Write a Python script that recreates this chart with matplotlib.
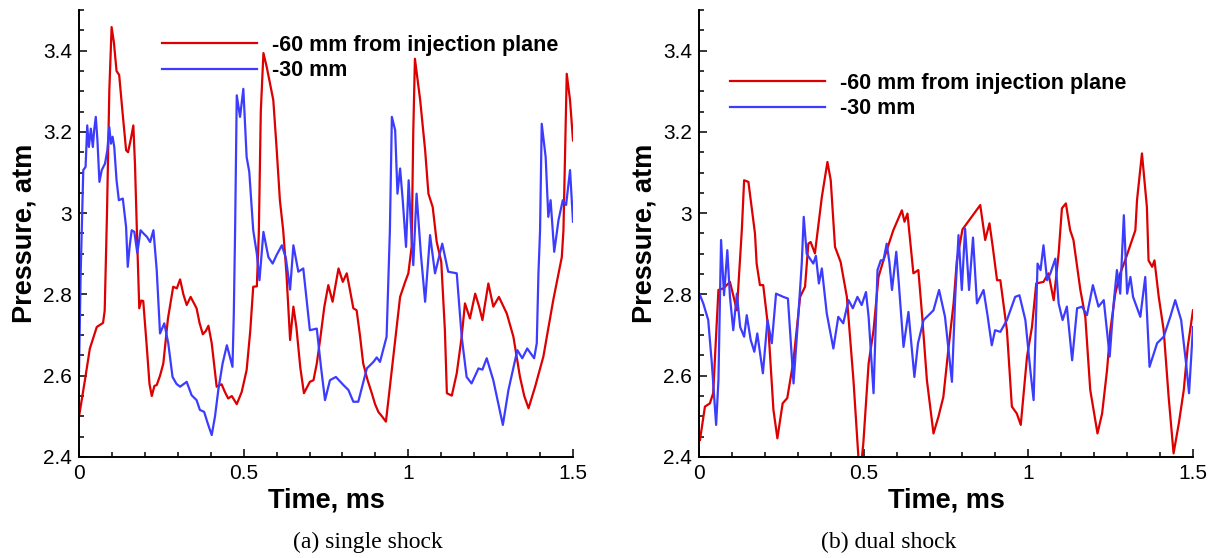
import matplotlib
matplotlib.use("Agg")
import matplotlib.pyplot as plt
from matplotlib.ticker import MultipleLocator, FuncFormatter

plt.rcParams['font.family'] = ['Liberation Sans', 'DejaVu Sans']

# ---------------- data: (a) single shock ----------------
a_red_t = [0.000, 0.018, 0.033, 0.054, 0.073, 0.078, 0.085, 0.092, 0.099, 0.106, 0.114, 0.122,
           0.132, 0.143, 0.149, 0.158, 0.165, 0.170, 0.176, 0.183, 0.189, 0.195, 0.205, 0.214,
           0.221, 0.229, 0.236, 0.246, 0.256, 0.270, 0.286, 0.297, 0.307, 0.317, 0.327, 0.339,
           0.348, 0.357, 0.366, 0.376, 0.385, 0.393, 0.403, 0.418, 0.433, 0.443, 0.453, 0.464,
           0.479, 0.494, 0.509, 0.520, 0.529, 0.540, 0.546, 0.552, 0.560, 0.570, 0.590, 0.600,
           0.610, 0.620, 0.630, 0.641, 0.651, 0.660, 0.672, 0.683, 0.701, 0.712, 0.722, 0.732,
           0.745, 0.757, 0.770, 0.788, 0.801, 0.813, 0.823, 0.833, 0.843, 0.853, 0.863, 0.876,
           0.889, 0.899, 0.909, 0.920, 0.932, 0.944, 0.960, 0.975, 0.990, 1.000, 1.010, 1.015,
           1.020, 1.028, 1.036, 1.051, 1.061, 1.074, 1.086, 1.100, 1.111, 1.117, 1.132, 1.147,
           1.162, 1.172, 1.187, 1.203, 1.215, 1.225, 1.243, 1.258, 1.275, 1.299, 1.319, 1.339,
           1.352, 1.365, 1.385, 1.410, 1.440, 1.466, 1.471, 1.476, 1.481, 1.491, 1.500]
a_red_p = [2.499, 2.589, 2.667, 2.720, 2.730, 2.760, 3.000, 3.300, 3.458, 3.420, 3.350, 3.340,
           3.250, 3.155, 3.150, 3.185, 3.216, 3.120, 2.950, 2.766, 2.785, 2.784, 2.680, 2.580,
           2.550, 2.575, 2.577, 2.600, 2.630, 2.740, 2.819, 2.815, 2.837, 2.800, 2.774, 2.794,
           2.780, 2.766, 2.730, 2.702, 2.710, 2.723, 2.680, 2.573, 2.579, 2.560, 2.544, 2.550,
           2.530, 2.560, 2.614, 2.710, 2.819, 2.820, 2.950, 3.250, 3.394, 3.360, 3.278, 3.160,
           3.032, 2.958, 2.850, 2.688, 2.770, 2.720, 2.620, 2.557, 2.585, 2.589, 2.630, 2.688,
           2.770, 2.823, 2.782, 2.864, 2.831, 2.852, 2.810, 2.766, 2.761, 2.700, 2.630, 2.590,
           2.557, 2.530, 2.511, 2.500, 2.487, 2.573, 2.688, 2.794, 2.830, 2.852, 2.917, 3.200,
           3.380, 3.330, 3.278, 3.155, 3.048, 3.015, 2.930, 2.880, 2.712, 2.557, 2.551, 2.606,
           2.696, 2.778, 2.741, 2.802, 2.770, 2.737, 2.827, 2.770, 2.794, 2.753, 2.696, 2.597,
           2.550, 2.520, 2.573, 2.647, 2.786, 2.892, 2.958, 3.150, 3.343, 3.278, 3.179]

a_blue_t = [0.000, 0.005, 0.013, 0.020, 0.025, 0.030, 0.036, 0.042, 0.046, 0.051, 0.056, 0.062,
            0.069, 0.079, 0.086, 0.092, 0.097, 0.102, 0.107, 0.114, 0.121, 0.133, 0.143, 0.148,
            0.154, 0.160, 0.168, 0.177, 0.187, 0.196, 0.206, 0.216, 0.226, 0.236, 0.246, 0.259,
            0.271, 0.284, 0.296, 0.307, 0.327, 0.342, 0.357, 0.367, 0.380, 0.392, 0.403, 0.413,
            0.423, 0.436, 0.449, 0.466, 0.470, 0.474, 0.479, 0.489, 0.499, 0.509, 0.517, 0.529,
            0.540, 0.548, 0.560, 0.575, 0.588, 0.600, 0.616, 0.628, 0.641, 0.651, 0.666, 0.681,
            0.701, 0.722, 0.735, 0.747, 0.762, 0.780, 0.803, 0.818, 0.833, 0.848, 0.874, 0.894,
            0.904, 0.914, 0.934, 0.940, 0.944, 0.950, 0.960, 0.967, 0.975, 0.983, 0.993, 1.001,
            1.007, 1.015, 1.025, 1.038, 1.051, 1.066, 1.081, 1.103, 1.121, 1.147, 1.162, 1.177,
            1.192, 1.213, 1.225, 1.238, 1.258, 1.273, 1.287, 1.304, 1.331, 1.346, 1.361, 1.382,
            1.390, 1.395, 1.400, 1.405, 1.417, 1.425, 1.432, 1.443, 1.456, 1.469, 1.479, 1.491,
            1.500]
a_blue_p = [2.610, 2.850, 3.106, 3.114, 3.216, 3.163, 3.208, 3.163, 3.204, 3.237, 3.179, 3.077,
            3.106, 3.122, 3.155, 3.212, 3.171, 3.188, 3.163, 3.081, 3.032, 3.036, 2.966, 2.868,
            2.920, 2.958, 2.954, 2.902, 2.958, 2.950, 2.942, 2.929, 2.958, 2.860, 2.704, 2.729,
            2.680, 2.597, 2.580, 2.573, 2.585, 2.552, 2.540, 2.516, 2.511, 2.480, 2.454, 2.500,
            2.565, 2.630, 2.675, 2.622, 2.750, 2.958, 3.290, 3.237, 3.306, 3.138, 3.102, 2.958,
            2.900, 2.835, 2.954, 2.892, 2.876, 2.897, 2.921, 2.890, 2.812, 2.921, 2.856, 2.864,
            2.712, 2.716, 2.620, 2.540, 2.589, 2.597, 2.577, 2.565, 2.536, 2.536, 2.618, 2.634,
            2.645, 2.634, 2.696, 2.850, 2.958, 3.237, 3.204, 3.048, 3.110, 3.032, 2.917, 3.081,
            2.983, 2.872, 3.048, 2.900, 2.782, 2.946, 2.852, 2.925, 2.856, 2.852, 2.696, 2.597,
            2.581, 2.618, 2.615, 2.643, 2.589, 2.532, 2.479, 2.565, 2.663, 2.643, 2.667, 2.643,
            2.680, 2.850, 2.958, 3.220, 3.138, 2.991, 3.032, 2.905, 2.983, 3.032, 3.020, 3.106,
            2.979]

# ---------------- data: (b) dual shock ----------------
b_red_t = [0.003, 0.018, 0.033, 0.043, 0.059, 0.074, 0.094, 0.115, 0.130, 0.137, 0.150, 0.170,
           0.175, 0.185, 0.195, 0.211, 0.226, 0.238, 0.254, 0.268, 0.287, 0.307, 0.322, 0.332,
           0.339, 0.352, 0.373, 0.390, 0.400, 0.413, 0.430, 0.449, 0.469, 0.484, 0.491, 0.499,
           0.515, 0.530, 0.545, 0.560, 0.590, 0.616, 0.624, 0.633, 0.651, 0.666, 0.677, 0.692,
           0.712, 0.727, 0.742, 0.758, 0.773, 0.783, 0.800, 0.854, 0.869, 0.882, 0.892, 0.905,
           0.915, 0.935, 0.950, 0.965, 0.977, 0.996, 1.011, 1.024, 1.046, 1.061, 1.077, 1.092,
           1.102, 1.114, 1.127, 1.137, 1.158, 1.173, 1.188, 1.210, 1.224, 1.239, 1.249, 1.264,
           1.279, 1.294, 1.325, 1.330, 1.345, 1.360, 1.365, 1.376, 1.383, 1.396, 1.411, 1.426,
           1.441, 1.457, 1.472, 1.484, 1.500]
b_red_p = [2.442, 2.524, 2.532, 2.557, 2.811, 2.815, 2.831, 2.761, 2.958, 3.081, 3.077, 2.950,
           2.876, 2.823, 2.823, 2.712, 2.516, 2.446, 2.532, 2.545, 2.638, 2.794, 2.819, 2.925,
           2.929, 2.901, 3.040, 3.126, 3.081, 2.917, 2.880, 2.794, 2.589, 2.400, 2.370, 2.434,
           2.630, 2.712, 2.843, 2.884, 2.958, 3.007, 2.979, 2.999, 2.852, 2.860, 2.753, 2.589,
           2.458, 2.499, 2.548, 2.671, 2.778, 2.884, 2.960, 3.020, 2.934, 2.975, 2.917, 2.835,
           2.835, 2.712, 2.524, 2.507, 2.479, 2.647, 2.720, 2.827, 2.831, 2.852, 2.786, 2.901,
           3.012, 3.024, 2.958, 2.934, 2.811, 2.745, 2.565, 2.458, 2.507, 2.614, 2.712, 2.802,
           2.852, 2.884, 2.958, 3.032, 3.147, 3.015, 2.884, 2.868, 2.884, 2.794, 2.712, 2.548,
           2.409, 2.483, 2.565, 2.671, 2.761]

b_blue_t = [0.003, 0.013, 0.028, 0.039, 0.052, 0.059, 0.067, 0.076, 0.086, 0.094, 0.104, 0.115,
            0.125, 0.137, 0.145, 0.157, 0.168, 0.177, 0.194, 0.208, 0.221, 0.234, 0.256, 0.270,
            0.287, 0.302, 0.312, 0.318, 0.327, 0.337, 0.347, 0.355, 0.364, 0.373, 0.388, 0.408,
            0.423, 0.438, 0.454, 0.467, 0.481, 0.494, 0.507, 0.515, 0.530, 0.542, 0.552, 0.560,
            0.570, 0.578, 0.586, 0.599, 0.606, 0.621, 0.636, 0.654, 0.665, 0.682, 0.712, 0.729,
            0.747, 0.768, 0.778, 0.788, 0.798, 0.808, 0.820, 0.832, 0.844, 0.864, 0.876, 0.889,
            0.899, 0.915, 0.935, 0.960, 0.973, 0.991, 1.006, 1.016, 1.028, 1.037, 1.046, 1.057,
            1.067, 1.082, 1.092, 1.104, 1.117, 1.133, 1.148, 1.163, 1.178, 1.196, 1.213, 1.229,
            1.247, 1.259, 1.269, 1.279, 1.290, 1.300, 1.310, 1.318, 1.340, 1.355, 1.368, 1.391,
            1.411, 1.431, 1.446, 1.464, 1.479, 1.488, 1.500]
b_blue_p = [2.798, 2.778, 2.737, 2.630, 2.479, 2.589, 2.934, 2.798, 2.909, 2.794, 2.712, 2.802,
            2.720, 2.696, 2.749, 2.688, 2.659, 2.704, 2.606, 2.737, 2.680, 2.802, 2.794, 2.790,
            2.581, 2.753, 2.876, 2.991, 2.900, 2.888, 2.876, 2.895, 2.827, 2.864, 2.753, 2.667,
            2.745, 2.729, 2.786, 2.766, 2.794, 2.774, 2.806, 2.745, 2.557, 2.860, 2.884, 2.884,
            2.925, 2.880, 2.811, 2.905, 2.835, 2.671, 2.757, 2.597, 2.680, 2.737, 2.761, 2.811,
            2.745, 2.585, 2.794, 2.946, 2.811, 2.962, 2.811, 2.940, 2.778, 2.811, 2.749, 2.675,
            2.712, 2.708, 2.737, 2.794, 2.798, 2.737, 2.614, 2.540, 2.876, 2.860, 2.921, 2.835,
            2.852, 2.888, 2.778, 2.737, 2.770, 2.638, 2.766, 2.770, 2.749, 2.823, 2.770, 2.786,
            2.647, 2.778, 2.860, 2.802, 2.995, 2.802, 2.843, 2.794, 2.745, 2.843, 2.622, 2.680,
            2.696, 2.745, 2.786, 2.737, 2.630, 2.557, 2.720]

legend_labels = ["-60 mm from injection plane", "-30 mm"]
captions = ["(a) single shock", "(b) dual shock"]
x_label = "Time, ms"
y_label = "Pressure, atm"

RED = '#dd0000'
BLUE = '#3c3cff'

W, H = 1214, 558
fig = plt.figure(figsize=(W / 100, H / 100), dpi=100)

panels = [
    dict(left=79, red=(a_red_t, a_red_p), blue=(a_blue_t, a_blue_p),
         leg=(162, 35), cap=(368, 542)),
    dict(left=699, red=(b_red_t, b_red_p), blue=(b_blue_t, b_blue_p),
         leg=(730, 73), cap=(889, 542)),
]

fmt = FuncFormatter(lambda v, pos: f"{v:g}")

for i, pn in enumerate(panels):
    ax = fig.add_axes([pn['left'] / W, (H - 457) / H, 494 / W, 447 / H])
    ax.plot(*pn['red'], color=RED, lw=1.6, solid_joinstyle='round', label=legend_labels[0])
    ax.plot(*pn['blue'], color=BLUE, lw=1.6, solid_joinstyle='round', label=legend_labels[1])
    ax.set_xlim(0, 1.5)
    ax.set_ylim(2.4, 3.5)
    for s in ['top', 'right']:
        ax.spines[s].set_visible(False)
    for s in ['left', 'bottom']:
        ax.spines[s].set_linewidth(1.4)
        ax.spines[s].set_zorder(5)
    ax.xaxis.set_major_locator(MultipleLocator(0.5))
    ax.xaxis.set_minor_locator(MultipleLocator(0.1))
    ax.yaxis.set_major_locator(MultipleLocator(0.2))
    ax.yaxis.set_minor_locator(MultipleLocator(0.05))
    ax.xaxis.set_major_formatter(fmt)
    ax.yaxis.set_major_formatter(fmt)
    ax.tick_params(which='both', direction='in', width=1.1, labelsize=15, pad=5)
    ax.tick_params(which='major', length=6)
    ax.tick_params(which='minor', length=3.5)
    ax.set_xlabel(x_label, fontsize=19.5, fontweight='bold', labelpad=3)
    ax.set_ylabel(y_label, fontsize=19.5, fontweight='bold', labelpad=4)
    lx, ly = pn['leg']
    ax.legend(loc='upper left', bbox_to_anchor=(lx / W, 1 - ly / H),
              bbox_transform=fig.transFigure, frameon=False,
              borderpad=0, borderaxespad=0, handlelength=4.4, handletextpad=0.7,
              labelspacing=0.2, prop=dict(family='Liberation Sans', weight='bold', size=15.5))
    fig.text(pn['cap'][0] / W, 1 - pn['cap'][1] / H, captions[i],
             ha='center', va='center', family='Liberation Serif', fontsize=17)

fig.savefig('out.png', dpi=100)
